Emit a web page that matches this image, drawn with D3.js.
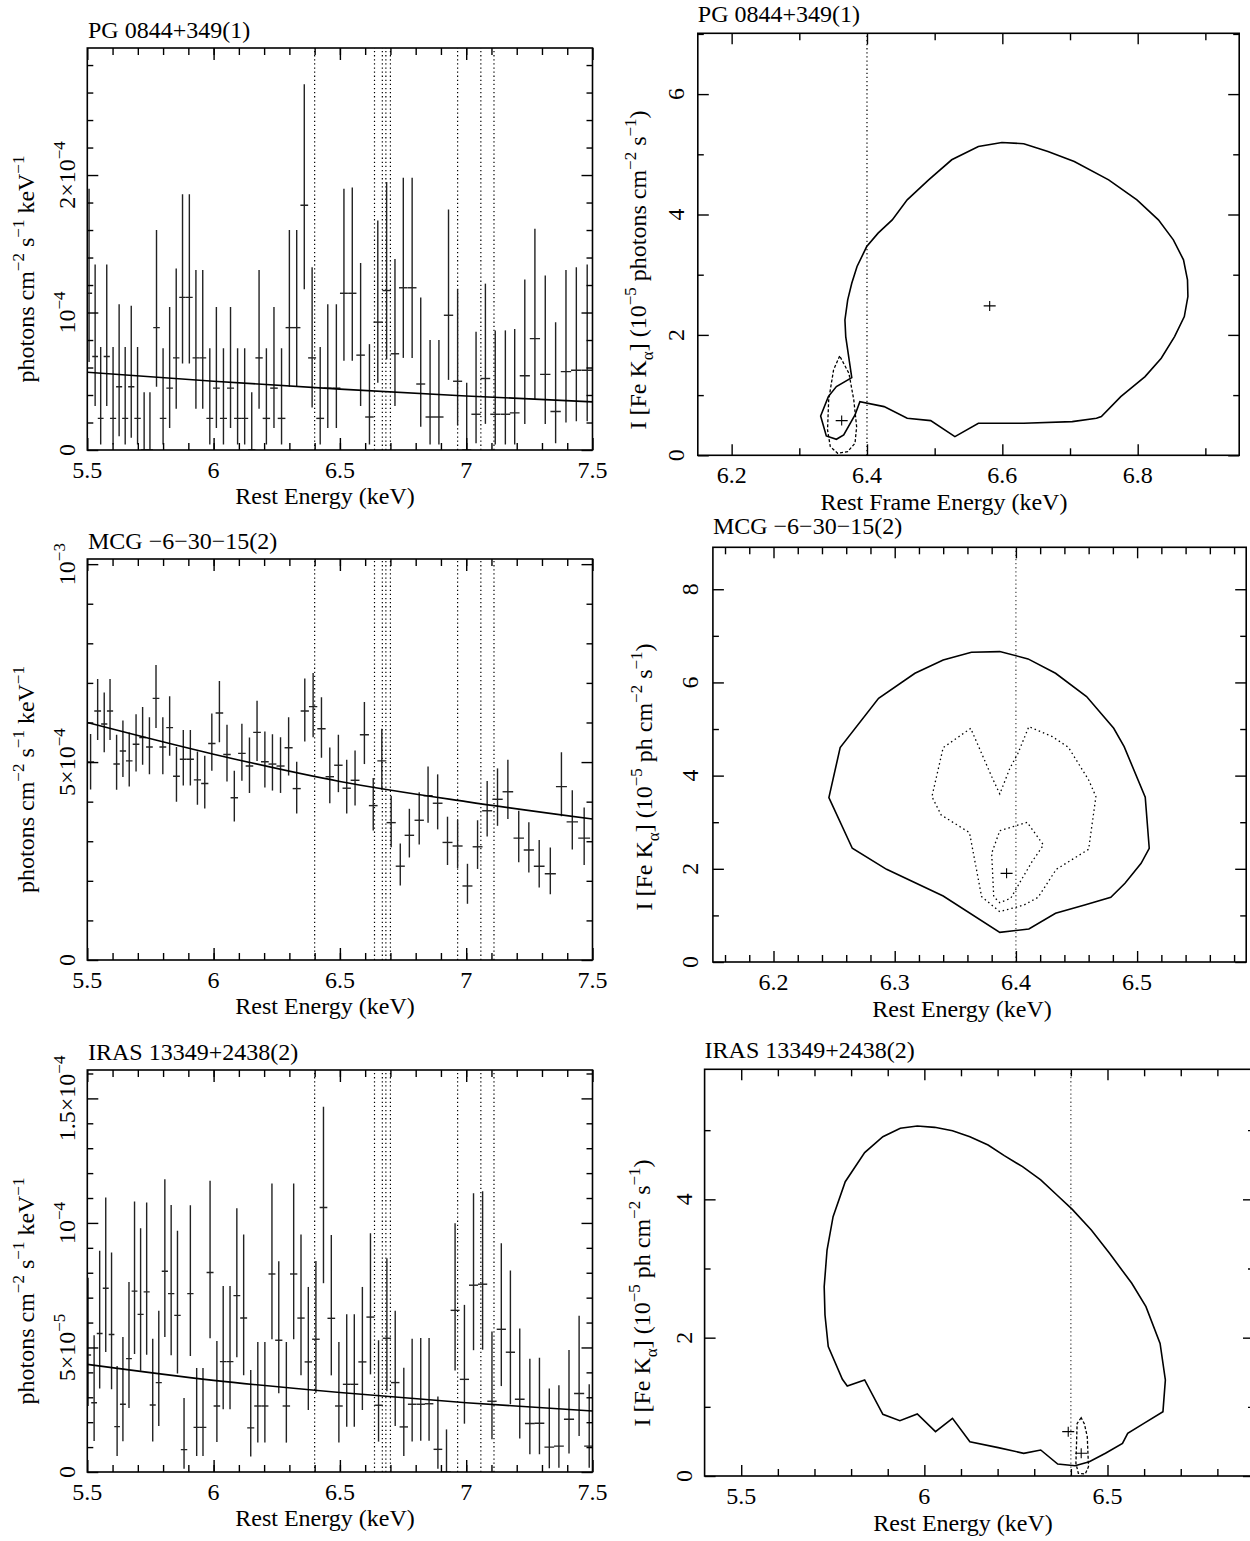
<!DOCTYPE html>
<html>
<head>
<meta charset="utf-8">
<script src="https://cdn.jsdelivr.net/npm/d3@7"></script>
<style>
body { margin: 0; background: #fff; }
text { font-family: "Liberation Serif", "Times New Roman", serif; fill: #000; }
</style>
</head>
<body>
<div id="chart"></div>
<script>
// atomic line energies marked on the spectra (keV)
var lineEnergies = [6.40, 6.637, 6.668, 6.682, 6.70, 6.966, 7.058, 7.11];

// spectra: [energy keV, flux, error low, error high]
// PG 0844+349 in 1e-4, MCG -6-30-15 in 1e-4, IRAS 13349+2438 in 1e-5
var pgSpec = [
  [5.507,1.14,0.64,1.90],[5.531,0.68,0.32,1.35],[5.553,0.23,0.04,0.75],[5.577,0.68,0.32,1.35],
  [5.602,0.23,0.04,0.75],[5.626,0.46,0.10,1.06],[5.650,0.23,0.04,0.75],[5.674,0.46,0.09,1.05],
  [5.699,0.23,0.04,0.75],[5.725,0.00,0.00,0.42],[5.748,0.00,0.00,0.42],[5.774,0.89,0.46,1.60],
  [5.800,0.23,0.04,0.74],[5.826,0.45,0.16,1.04],[5.852,0.67,0.30,1.32],[5.877,1.11,0.63,1.86],
  [5.904,1.11,0.63,1.86],[5.930,0.67,0.30,1.31],[5.957,0.67,0.30,1.31],[5.985,0.23,0.04,0.74],
  [6.011,0.45,0.16,1.04],[6.039,0.23,0.04,0.74],[6.067,0.45,0.16,1.04],[6.095,0.23,0.04,0.74],
  [6.123,0.23,0.04,0.74],[6.151,0.00,0.00,0.42],[6.180,0.67,0.30,1.31],[6.209,0.23,0.04,0.74],
  [6.239,0.45,0.16,1.04],[6.269,0.23,0.04,0.74],[6.300,0.89,0.46,1.60],[6.329,0.89,0.46,1.60],
  [6.359,1.78,1.17,2.66],[6.390,0.67,0.31,1.33],[6.422,0.23,0.04,0.75],[6.452,0.45,0.16,1.06],
  [6.486,0.45,0.16,1.06],[6.516,1.14,0.65,1.90],[6.549,1.14,0.65,1.91],[6.582,0.69,0.32,1.36],
  [6.617,0.24,0.04,0.77],[6.650,0.93,0.49,1.67],[6.685,1.16,0.66,1.95],[6.718,0.70,0.32,1.39],
  [6.751,1.18,0.67,1.98],[6.786,1.18,0.67,1.98],[6.820,0.48,0.17,1.11],[6.857,0.24,0.04,0.80],
  [6.892,0.24,0.04,0.80],[6.930,0.98,0.51,1.75],[6.966,0.50,0.18,1.17],[7.002,0.00,0.00,0.49],
  [7.039,0.26,0.05,0.86],[7.076,0.52,0.19,1.21],[7.115,0.26,0.04,0.87],[7.155,0.26,0.04,0.87],
  [7.192,0.27,0.04,0.88],[7.232,0.54,0.19,1.24],[7.272,0.81,0.37,1.61],[7.313,0.55,0.19,1.27],
  [7.354,0.28,0.05,0.93],[7.395,0.57,0.20,1.31],[7.436,0.58,0.21,1.33],[7.479,0.58,0.21,1.35]
];
var mcgSpec = [
  [5.513,5.00,4.31,5.71],[5.541,6.29,5.56,7.10],[5.567,5.96,5.25,6.76],[5.590,6.29,5.56,7.10],
  [5.616,4.95,4.30,5.69],[5.641,5.28,4.62,6.05],[5.666,5.03,4.38,5.75],[5.693,5.45,4.76,6.21],
  [5.719,5.62,4.93,6.39],[5.746,5.38,4.69,6.13],[5.772,6.61,5.86,7.45],[5.799,5.38,4.69,6.13],
  [5.826,5.87,5.16,6.66],[5.853,4.64,4.00,5.38],[5.880,5.07,4.41,5.81],[5.908,5.07,4.41,5.81],
  [5.936,4.55,3.92,5.27],[5.965,4.46,3.83,5.16],[5.993,5.47,4.78,6.23],[6.023,6.24,5.50,7.05],
  [6.053,5.19,4.51,5.94],[6.082,4.10,3.50,4.78],[6.112,5.22,4.53,5.97],[6.142,4.90,4.22,5.62],
  [6.172,5.75,5.03,6.55],[6.203,5.01,4.36,5.77],[6.233,4.95,4.28,5.70],[6.265,4.90,4.22,5.63],
  [6.297,5.36,4.66,6.13],[6.329,4.33,3.70,5.01],[6.361,6.29,5.52,7.11],[6.394,6.40,5.63,7.25],
  [6.427,5.84,5.11,6.64],[6.460,4.63,3.96,5.37],[6.494,4.92,4.24,5.69],[6.527,4.34,3.70,5.06],
  [6.560,4.54,3.90,5.29],[6.597,5.69,4.95,6.52],[6.632,3.90,3.27,4.60],[6.666,5.03,4.30,5.84],
  [6.703,3.47,2.85,4.15],[6.739,2.37,1.88,2.94],[6.775,3.15,2.59,3.82],[6.814,3.53,2.92,4.24],
  [6.849,4.15,3.47,4.89],[6.887,3.96,3.30,4.69],[6.926,2.97,2.40,3.62],[6.966,2.88,2.32,3.54],
  [7.005,1.87,1.42,2.43],[7.045,2.86,2.30,3.53],[7.083,3.77,3.12,4.52],[7.124,4.06,3.39,4.84],
  [7.165,4.25,3.56,5.06],[7.208,3.08,2.47,3.77],[7.248,2.78,2.21,3.48],[7.289,2.37,1.83,3.03],
  [7.333,2.18,1.66,2.84],[7.377,4.38,3.63,5.25],[7.420,3.49,2.79,4.29],[7.467,3.08,2.40,3.85]
];
var irasSpec = [
  [5.503,4.70,2.65,7.80],[5.527,2.78,1.24,5.49],[5.549,5.56,3.35,8.88],[5.573,7.38,4.82,11.02],
  [5.596,5.52,3.32,8.81],[5.618,1.82,0.64,4.26],[5.641,2.72,1.23,5.42],[5.665,4.55,2.57,7.63],
  [5.687,7.26,4.74,10.86],[5.711,6.33,4.07,9.79],[5.735,7.23,4.71,10.82],[5.759,2.69,1.22,5.35],
  [5.783,3.59,1.85,6.47],[5.807,8.06,5.42,11.75],[5.832,7.16,4.69,10.72],[5.857,6.29,3.95,9.69],
  [5.883,0.90,0.13,2.97],[5.908,7.16,4.66,10.71],[5.933,1.79,0.64,4.18],[5.958,1.79,0.64,4.18],
  [5.986,8.01,5.37,11.69],[6.013,2.65,1.20,5.26],[6.038,4.43,2.52,7.47],[6.065,4.43,2.52,7.47],
  [6.092,7.08,4.61,10.59],[6.119,6.18,3.88,9.54],[6.147,1.77,0.62,4.10],[6.175,2.65,1.18,5.22],
  [6.203,2.65,1.18,5.22],[6.231,7.95,5.33,11.58],[6.258,5.29,3.16,8.46],[6.288,2.65,1.18,5.22],
  [6.317,7.95,5.33,11.58],[6.346,6.18,3.88,9.54],[6.375,4.42,2.49,7.43],[6.405,5.33,3.18,8.47],
  [6.435,10.62,7.58,14.66],[6.466,6.17,3.88,9.52],[6.496,2.65,1.18,5.22],[6.527,3.52,1.82,6.33],
  [6.557,3.52,1.82,6.33],[6.589,4.42,2.49,7.43],[6.621,6.22,3.92,9.59],[6.653,2.68,1.22,5.29],
  [6.686,5.37,3.24,8.58],[6.719,3.59,1.85,6.47],[6.753,1.81,0.64,4.19],[6.786,2.72,1.22,5.35],
  [6.820,2.72,1.25,5.38],[6.853,2.74,1.25,5.38],[6.888,0.91,0.13,3.03],[6.922,0.00,0.00,1.71],
  [6.956,6.49,4.08,9.99],[6.993,3.72,1.94,6.71],[7.029,7.50,4.89,11.19],[7.065,7.54,4.91,11.27],
  [7.102,2.84,1.31,5.64],[7.139,5.73,3.45,9.18],[7.175,4.81,2.72,8.09],[7.212,2.92,1.34,5.76],
  [7.252,1.95,0.71,4.55],[7.290,1.96,0.71,4.59],[7.329,1.00,0.15,3.35],[7.367,1.04,0.17,3.48],
  [7.407,2.12,0.74,4.90],[7.447,3.15,1.45,6.27],[7.487,1.04,0.17,3.52]
];

// continuum model: [energy, flux]
var pgModel = [[5.5,0.565],[6.0,0.50],[6.5,0.443],[7.0,0.393],[7.5,0.35]];
var mcgModel = [[5.5,6.00],[6.0,5.20],[6.5,4.51],[7.0,4.00],[7.5,3.56]];
var irasModel = [[5.5,4.32],[6.0,3.68],[6.5,3.19],[7.0,2.78],[7.5,2.45]];

// confidence contours: [line energy keV, intensity 1e-5 ph cm-2 s-1]
var pgOuter = [
  [6.3775,1.291],[6.3686,1.972],[6.3674,2.249],[6.3715,2.582],[6.3775,2.859],[6.3853,3.136],
  [6.3996,3.468],[6.4164,3.690],[6.4373,3.911],[6.4594,4.244],[6.4911,4.576],[6.5252,4.909],
  [6.5646,5.130],[6.5993,5.197],[6.6316,5.175],[6.6674,5.047],[6.7063,4.881],[6.7571,4.576],
  [6.7989,4.244],[6.8306,3.911],[6.8527,3.579],[6.8677,3.247],[6.8736,2.914],[6.8742,2.637],
  [6.8689,2.305],[6.8545,1.972],[6.8348,1.612],[6.8109,1.307],[6.7750,0.975],[6.7463,0.643],
  [6.7391,0.615],[6.7033,0.560],[6.6316,0.532],[6.5646,0.532],[6.5299,0.310],[6.4941,0.576],
  [6.4594,0.615],[6.4253,0.809],[6.3895,0.892],[6.3823,0.670],[6.3656,0.338],[6.3548,0.266],
  [6.3399,0.321],[6.3315,0.654],[6.3429,0.975],[6.3548,1.141]
];
var pgInner = [
  [6.3596,1.651],[6.3506,1.418],[6.3434,0.920],[6.3417,0.421],[6.3458,0.144],[6.3566,0.033],
  [6.3715,0.061],[6.3823,0.199],[6.3847,0.476],[6.3805,0.920],[6.3733,1.363]
];
var pgBest = [[6.5813,2.482],[6.3626,0.576]];

var mcgOuter = [
  [6.2457,3.528],[6.2550,4.601],[6.2867,5.660],[6.3167,6.197],[6.3400,6.483],[6.3633,6.648],
  [6.3867,6.662],[6.4100,6.505],[6.4327,6.197],[6.4583,5.696],[6.4807,5.016],[6.4893,4.623],
  [6.5067,3.535],[6.5100,2.440],[6.5033,2.118],[6.4900,1.689],[6.4783,1.388],[6.4567,1.224],
  [6.4327,1.045],[6.4107,0.708],[6.3867,0.637],[6.3400,1.417],[6.2933,1.989],[6.2650,2.440]
];
var mcgMid = [
  [6.3627,5.014],[6.3400,4.601],[6.3307,3.549],[6.3383,3.156],[6.3617,2.776],[6.3717,1.402],
  [6.3867,1.080],[6.4067,1.224],[6.4183,1.388],[6.4333,1.989],[6.4600,2.419],[6.4660,3.549],
  [6.4600,3.907],[6.4433,4.608],[6.4300,4.837],[6.4107,5.052],[6.4017,4.479],[6.3950,4.157],
  [6.3867,3.606],[6.3800,3.979]
];
var mcgInner = [
  [6.3867,2.818],[6.4093,2.998],[6.4227,2.511],[6.4133,2.153],[6.4033,1.710],[6.3957,1.367],
  [6.3867,1.274],[6.3817,1.402],[6.3800,2.333]
];
var mcgBest = [[6.3923,1.903]];

var irasOuter = [
  [5.7287,2.328],[5.7265,2.737],[5.7343,3.267],[5.7508,3.749],[5.7840,4.255],[5.8370,4.675],
  [5.8867,4.906],[5.9343,5.027],[5.9807,5.060],[6.0282,5.041],[6.0768,4.993],[6.1243,4.906],
  [6.1740,4.786],[6.2182,4.631],[6.2680,4.472],[6.3177,4.280],[6.3619,4.063],[6.4039,3.855],
  [6.4558,3.557],[6.5055,3.219],[6.5663,2.786],[6.6050,2.448],[6.6436,1.918],[6.6580,1.388],
  [6.6514,0.930],[6.5994,0.761],[6.5552,0.617],[6.5409,0.472],[6.4945,0.328],[6.4503,0.207],
  [6.4116,0.149],[6.3641,0.173],[6.3177,0.376],[6.2713,0.328],[6.2017,0.410],[6.1243,0.496],
  [6.0768,0.834],[6.0304,0.641],[5.9807,0.896],[5.9331,0.800],[5.8867,0.892],[5.8370,1.388],
  [5.7895,1.301],[5.7762,1.398],[5.7376,1.870]
];
var irasInner = [
  [6.4282,0.843],[6.4171,0.761],[6.4138,0.183],[6.4204,0.039],[6.4392,0.029],[6.4481,0.135],
  [6.4448,0.569],[6.4370,0.752]
];
var irasBest = [[6.3928,0.641],[6.4282,0.328]];

var FS = 24;

var svg = d3.select("#chart").append("svg")
    .attr("width", 1250)
    .attr("height", 1541);
svg.append("rect").attr("width", 1250).attr("height", 1541).attr("fill", "#fff");

var clipId = 0;

// text with super/subscripts; parts = [[str, "sup"|"sub"|undefined], ...]
function rich(text, parts, size) {
    var off = 0;
    parts.forEach(function(p) {
        var mode = p[1] || "n";
        var target = mode == "sup" ? -0.42 * size : mode == "sub" ? 0.3 * size : 0;
        text.append("tspan")
            .attr("dy", (target - off).toFixed(1))
            .attr("font-size", mode == "n" ? size : Math.round(size * 0.7))
            .text(p[0]);
        off = target;
    });
    return text;
}

function frame(g, x, y, xt, yt) {
    var xr = x.range(), yr = y.range();
    var sides = [
        [d3.axisBottom, "translate(0," + yr[0] + ")", x, xt],
        [d3.axisTop, "translate(0," + yr[1] + ")", x, xt],
        [d3.axisLeft, "translate(" + xr[0] + ",0)", y, yt],
        [d3.axisRight, "translate(" + xr[1] + ",0)", y, yt]
    ];
    sides.forEach(function(s) {
        [[s[3].major, s[3].majorLen], [s[3].minor, s[3].minorLen]].forEach(function(m) {
            g.append("g")
                .attr("transform", s[1])
                .call(s[0](s[2]).tickValues(m[0]).tickSize(-m[1]).tickFormat(""))
                .call(function(a) {
                    a.select(".domain").remove();
                    a.selectAll("line").attr("stroke-width", 1.4);
                });
        });
    });
    g.append("rect")
        .attr("x", xr[0]).attr("y", yr[1])
        .attr("width", xr[1] - xr[0]).attr("height", yr[0] - yr[1])
        .attr("fill", "none").attr("stroke", "#000").attr("stroke-width", 1.6);
}

function clip(g, x, y) {
    var id = "clip" + (clipId++);
    var xr = x.range(), yr = y.range();
    g.append("clipPath").attr("id", id).append("rect")
        .attr("x", xr[0]).attr("y", yr[1])
        .attr("width", xr[1] - xr[0]).attr("height", yr[0] - yr[1]);
    return g.append("g").attr("clip-path", "url(#" + id + ")");
}

function xLabels(g, x, ticks, fmt, base) {
    g.selectAll(null).data(ticks).enter().append("text")
        .attr("x", d => x(d)).attr("y", base)
        .attr("text-anchor", "middle").attr("font-size", FS)
        .text(fmt);
}

function yLabel(g, px, py, parts) {
    var t = g.append("text")
        .attr("transform", "translate(" + px + "," + py + ") rotate(-90)")
        .attr("text-anchor", "middle").attr("font-size", FS);
    rich(t, parts, FS);
}

function spectrum(opt) {
    var g = svg.append("g");
    var x = d3.scaleLinear().domain([5.5, 7.5]).range([87.3, 592.5]);
    var y = d3.scaleLinear().domain([0, opt.yMax]).range([opt.bottom, opt.top]);
    var inner = clip(g, x, y);
    var data = opt.data;

    inner.selectAll(".eline").data(lineEnergies).enter().append("line")
        .attr("x1", d => x(d)).attr("x2", d => x(d))
        .attr("y1", y.range()[0]).attr("y2", y.range()[1])
        .attr("stroke", "#000").attr("stroke-width", 1.2)
        .attr("stroke-dasharray", "1.3,2.8");

    var hw = data.map(function(d, i) {
        var a = data[Math.max(i - 1, 0)][0], b = data[Math.min(i + 1, data.length - 1)][0];
        return (b - a) / ((i == 0 || i == data.length - 1) ? 2 : 4);
    });

    var bars = inner.selectAll(".bar").data(data).enter().append("g").attr("class", "bar");
    bars.append("line")
        .attr("x1", d => x(d[0])).attr("x2", d => x(d[0]))
        .attr("y1", d => y(d[2])).attr("y2", d => y(d[3]))
        .attr("stroke", "#222").attr("stroke-width", 1.4);
    bars.append("line")
        .attr("x1", (d, i) => x(d[0] - hw[i])).attr("x2", (d, i) => x(d[0] + hw[i]))
        .attr("y1", d => y(d[1])).attr("y2", d => y(d[1]))
        .attr("stroke", "#222").attr("stroke-width", 1.4);

    inner.append("path")
        .datum(opt.model)
        .attr("d", d3.line().x(d => x(d[0])).y(d => y(d[1])).curve(d3.curveMonotoneX))
        .attr("fill", "none").attr("stroke", "#000").attr("stroke-width", 1.6);

    frame(g, x, y,
        { major: [5.5, 6, 6.5, 7, 7.5], minor: d3.range(5.6, 7.45, 0.1), majorLen: 12, minorLen: 7 },
        { major: opt.yMajor, minor: opt.yMinor, majorLen: 11, minorLen: 6 });

    xLabels(g, x, [5.5, 6, 6.5, 7, 7.5], d => d, opt.bottom + 28);
    g.append("text").attr("x", 325).attr("y", opt.bottom + 54)
        .attr("text-anchor", "middle").attr("font-size", FS).text("Rest Energy (keV)");
    g.append("text").attr("x", 88).attr("y", opt.top - 10)
        .attr("font-size", FS).text(opt.title);

    opt.yLabels.forEach(function(l) {
        yLabel(g, 75, y(l[0]), l[1]);
    });
    yLabel(g, 34, (opt.top + opt.bottom) / 2 + 20,
        [["photons cm"], ["−2", "sup"], [" s"], ["−1", "sup"], [" keV"], ["−1", "sup"]]);
}

function contour(opt) {
    var g = svg.append("g");
    var x = d3.scaleLinear().domain(opt.xDomain).range(opt.xRange);
    var y = d3.scaleLinear().domain([0, opt.yMax]).range([opt.bottom, opt.top]);
    var inner = clip(g, x, y);

    inner.append("line")
        .attr("x1", x(6.4)).attr("x2", x(6.4))
        .attr("y1", y.range()[0]).attr("y2", y.range()[1])
        .attr("stroke", opt.refColor).attr("stroke-width", 1.2)
        .attr("stroke-dasharray", "1.3,2.8");

    var line = d3.line().x(d => x(d[0])).y(d => y(d[1])).curve(d3.curveLinearClosed);
    opt.curves.forEach(function(c) {
        inner.append("path")
            .datum(c.pts)
            .attr("d", line)
            .attr("fill", "none").attr("stroke", "#000")
            .attr("stroke-width", c.w || 1.6)
            .attr("stroke-dasharray", c.dash || null);
    });

    inner.selectAll(".best").data(opt.best).enter().append("path")
        .attr("d", d => "M" + (x(d[0]) - 6) + "," + y(d[1]) + "h12M" + x(d[0]) + "," + (y(d[1]) - 5) + "v10")
        .attr("stroke", "#000").attr("stroke-width", 1.1);

    frame(g, x, y,
        { major: opt.xMajor, minor: opt.xMinor, majorLen: 11, minorLen: 7 },
        { major: d3.range(0, opt.yMax, 2), minor: d3.range(1, opt.yMax, 2), majorLen: 11, minorLen: 6 });

    xLabels(g, x, opt.xMajor, opt.xFmt, opt.bottom + 28);
    g.append("text").attr("x", opt.xTitleX).attr("y", opt.bottom + 55)
        .attr("text-anchor", "middle").attr("font-size", FS)
        .text(opt.xTitle);
    g.append("text").attr("x", opt.xRange[0]).attr("y", opt.titleY)
        .attr("font-size", FS).text(opt.title);

    d3.range(0, opt.yMax, 2).forEach(function(v) {
        yLabel(g, opt.yLabX, y(v), [[String(v)]]);
    });
    var t = g.append("text")
        .attr("transform", "translate(" + opt.yTitleX + "," + opt.yTitleY + ") rotate(-90)")
        .attr("text-anchor", "middle").attr("font-size", FS);
    rich(t, [["I [Fe K"], ["α", "sub"], ["] (10"], ["−5", "sup"], [opt.unit + " cm"], ["−2", "sup"], [" s"], ["−1", "sup"], [")"]], FS);
}

spectrum({
    title: "PG 0844+349(1)", data: pgSpec, model: pgModel,
    yMax: 2.924, top: 48, bottom: 450,
    yMajor: [0, 1, 2], yMinor: d3.range(0.2, 2.9, 0.2).filter(v => Math.abs(v - 1) > 0.01 && Math.abs(v - 2) > 0.01),
    yLabels: [[0, [["0"]]], [1, [["10"], ["−4", "sup"]]], [2, [["2×10"], ["−4", "sup"]]]]
});
spectrum({
    title: "MCG −6−30−15(2)", data: mcgSpec, model: mcgModel,
    yMax: 10.13, top: 559, bottom: 960,
    yMajor: [0, 5, 10], yMinor: [1, 2, 3, 4, 6, 7, 8, 9],
    yLabels: [[0, [["0"]]], [5, [["5×10"], ["−4", "sup"]]], [10, [["10"], ["−3", "sup"]]]]
});
spectrum({
    title: "IRAS 13349+2438(2)", data: irasSpec, model: irasModel,
    yMax: 16.14, top: 1070, bottom: 1472,
    yMajor: [0, 5, 10, 15], yMinor: [1, 2, 3, 4, 6, 7, 8, 9, 11, 12, 13, 14, 16],
    yLabels: [[0, [["0"]]], [5, [["5×10"], ["−5", "sup"]]], [10, [["10"], ["−4", "sup"]]], [15, [["1.5×10"], ["−4", "sup"]]]]
});

contour({
    title: "PG 0844+349(1)", titleY: 22,
    xDomain: [6.15, 6.95], xRange: [697.8, 1239.2], yMax: 7.01, top: 33.3, bottom: 455.3,
    xMajor: [6.2, 6.4, 6.6, 6.8], xMinor: [6.3, 6.5, 6.7, 6.9], xFmt: d => d,
    xTitle: "Rest Frame Energy (keV)", xTitleX: 944,
    yLabX: 684, yTitleX: 646, yTitleY: 270, unit: " photons", refColor: "#000",
    curves: [{ pts: pgOuter }, { pts: pgInner, dash: "3,2", w: 1.3 }],
    best: pgBest
});
contour({
    title: "MCG −6−30−15(2)", titleY: 534,
    xDomain: [6.15, 6.59], xRange: [712.9, 1246.2], yMax: 8.9, top: 547.3, bottom: 962,
    xMajor: [6.2, 6.3, 6.4, 6.5], xMinor: d3.range(6.16, 6.59, 0.02).filter(v => Math.abs(v * 10 - Math.round(v * 10)) > 0.01),
    xFmt: d => d,
    xTitle: "Rest Energy (keV)", xTitleX: 962,
    yLabX: 698, yTitleX: 652, yTitleY: 777, unit: " ph", refColor: "#444",
    curves: [{ pts: mcgOuter }, { pts: mcgMid, dash: "1.5,3", w: 1.3 }, { pts: mcgInner, dash: "1.5,3", w: 1.3 }],
    best: mcgBest
});
contour({
    title: "IRAS 13349+2438(2)", titleY: 1058,
    xDomain: [5.4, 6.9], xRange: [704.6, 1254], yMax: 5.88, top: 1069.3, bottom: 1476,
    xMajor: [5.5, 6, 6.5], xMinor: [5.6, 5.7, 5.8, 5.9, 6.1, 6.2, 6.3, 6.4, 6.6, 6.7, 6.8], xFmt: d => d,
    xTitle: "Rest Energy (keV)", xTitleX: 963,
    yLabX: 692, yTitleX: 650, yTitleY: 1293, unit: " ph", refColor: "#444",
    curves: [{ pts: irasOuter }, { pts: irasInner, dash: "3,2", w: 1.3 }],
    best: irasBest
});
</script>
</body>
</html>
